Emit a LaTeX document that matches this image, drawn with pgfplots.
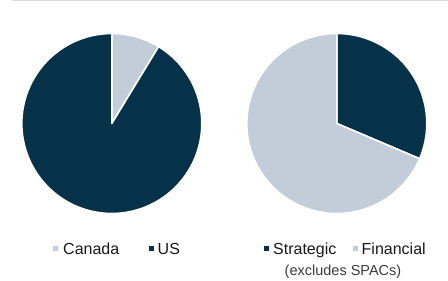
\documentclass[border=0pt]{standalone}
\usepackage{pgfplots}
\pgfplotsset{compat=1.18}
\usepgfplotslibrary{polar}
\usepackage{fontspec}
\setmainfont{Liberation Sans}
\definecolor{navy}{RGB}{5,50,72}
\definecolor{steel}{RGB}{195,205,217}
\definecolor{txt}{RGB}{25,25,25}
% shares in percent
\def\canada{8.7}\def\us{91.3}
\def\strategic{31.4}\def\financial{68.6}
\pgfplotsset{piestyle/.style={scale only axis, width=180bp, height=180bp,
  ymin=0, ymax=1, hide axis, clip=false}}
\begin{document}
\begin{tikzpicture}[x=1bp,y=1bp]
\path[use as bounding box] (0,0) rectangle (448,280);
\draw[black!15, line width=1bp] (12,279.5) -- (448,279.5);
\pgfmathsetmacro\aCan{90-3.6*\canada}
\pgfmathsetmacro\aStr{90-3.6*\strategic}
\begin{polaraxis}[piestyle, at={(111.8bp,156.5bp)}, anchor=center]
\addplot[draw=white, line width=1.6bp, line join=round, fill=steel, domain=\aCan:90, samples=40] {1} -- (axis cs:0,0) -- cycle;
\addplot[draw=white, line width=1.6bp, line join=round, fill=navy, domain=-270:\aCan, samples=150] {1} -- (axis cs:0,0) -- cycle;
\end{polaraxis}
\begin{polaraxis}[piestyle, at={(336.8bp,156.5bp)}, anchor=center]
\addplot[draw=white, line width=1.6bp, line join=round, fill=navy, domain=\aStr:90, samples=60] {1} -- (axis cs:0,0) -- cycle;
\addplot[draw=white, line width=1.6bp, line join=round, fill=steel, domain=-270:\aStr, samples=150] {1} -- (axis cs:0,0) -- cycle;
\end{polaraxis}
% legends
\fill[steel] (52.5,29.5) rectangle (57.5,34.5);
\node[anchor=base west, inner sep=0pt, text=txt, font=\fontsize{16bp}{19bp}\selectfont] at (63,25.4) {Canada};
\fill[navy] (149,29.5) rectangle (154,34.5);
\node[anchor=base west, inner sep=0pt, text=txt, font=\fontsize{16bp}{19bp}\selectfont] at (157.5,25.4) {US};
\fill[navy] (263.5,29.5) rectangle (268.5,34.5);
\node[anchor=base west, inner sep=0pt, text=txt, font=\fontsize{16bp}{19bp}\selectfont] at (273,25.4) {Strategic};
\fill[steel] (352.5,29.5) rectangle (357.5,34.5);
\node[anchor=base west, inner sep=0pt, text=txt, font=\fontsize{16bp}{19bp}\selectfont] at (361.5,25.4) {Financial};
\node[anchor=base, inner sep=0pt, text=txt!85, font=\fontsize{14.5bp}{17bp}\selectfont] at (343,4.5) {(excludes SPACs)};
\end{tikzpicture}
\end{document}
